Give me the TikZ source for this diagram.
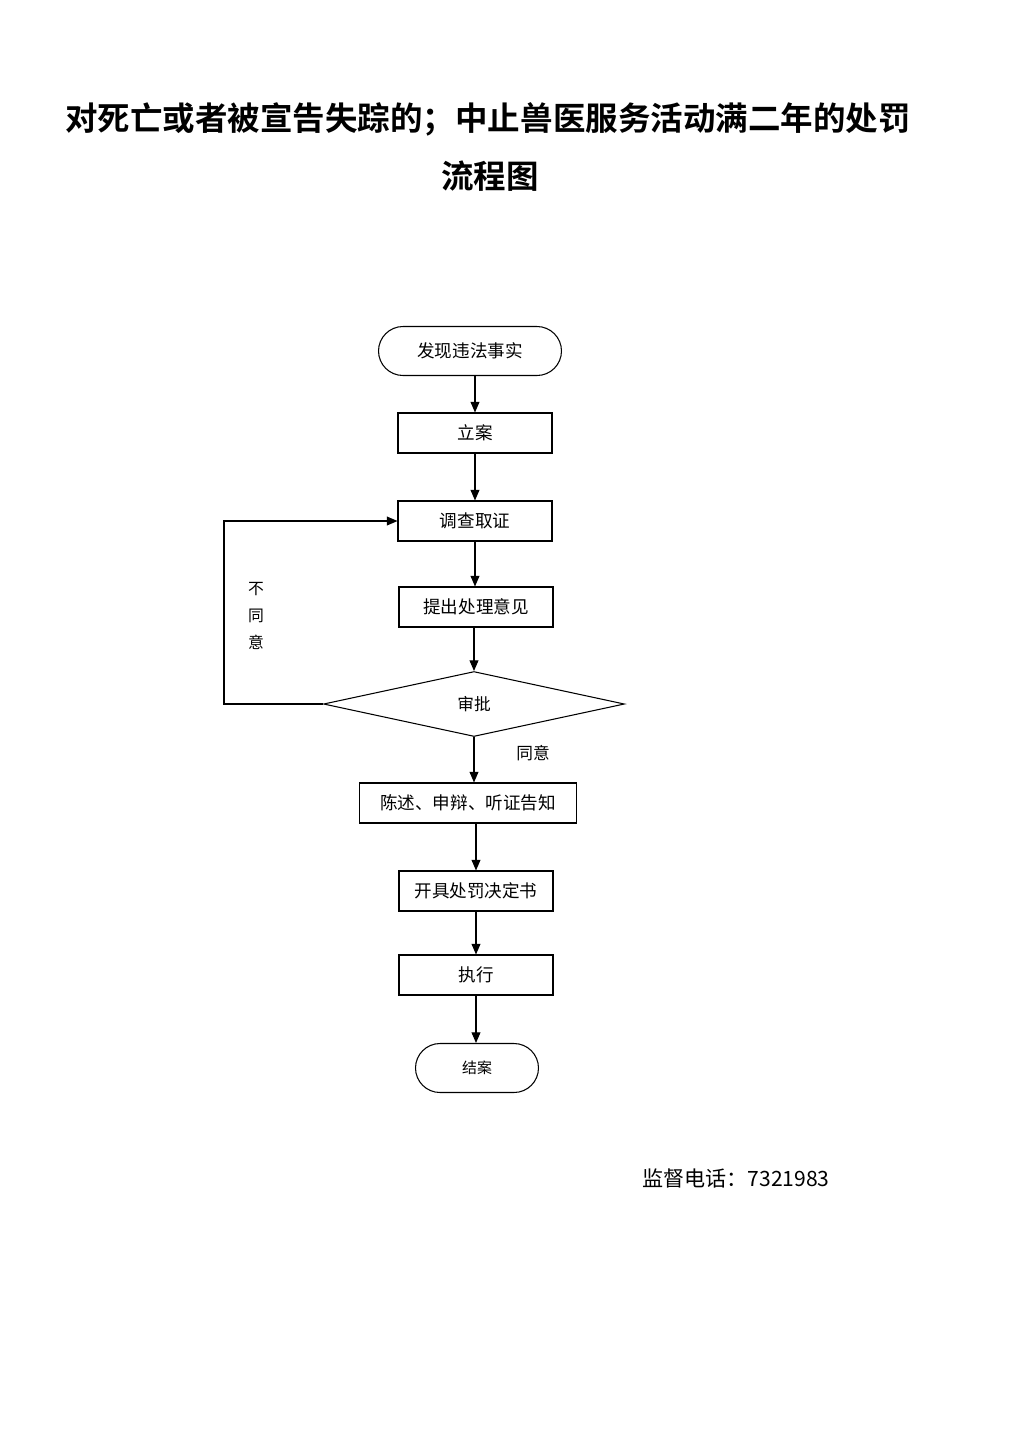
\documentclass[tikz,border=0pt]{standalone}
\usepackage{fontspec}
\setmainfont{Noto Sans CJK SC}
\newfontfamily\cjkbold[BoldFont=* Bold]{Noto Sans CJK SC}
\usepackage{tikz}
\usetikzlibrary{shapes.geometric, arrows.meta}

\begin{document}
\begin{tikzpicture}[x=0.02cm, y=-0.02cm,
  stepbox/.style={draw=black, line width=0.6pt, minimum width=3.08cm, minimum height=0.8cm, inner sep=0pt, font=\fontsize{10}{12}\selectfont},
  terminal/.style={draw=black, line width=0.6pt, rounded corners=0.49cm, minimum height=0.98cm, inner sep=0pt},
  decision/.style={draw=black, line width=0.6pt, diamond, minimum width=6.02cm, minimum height=1.3cm, inner sep=0pt, font=\fontsize{9.5}{11}\selectfont},
  arr/.style={draw=black, line width=0.6pt, -{Triangle[length=6pt, width=5pt]}}]
\useasboundingbox (0,0) rectangle (1024,1448);

% title
\node[font=\cjkbold\bfseries\fontsize{18.5}{22}\selectfont] (title1) at (488,119) {对死亡或者被宣告失踪的；中止兽医服务活动满二年的处罚};
\node[font=\cjkbold\bfseries\fontsize{18.5}{22}\selectfont] (title2) at (490,176) {流程图};

% steps
\node[terminal, minimum width=3.66cm, font=\fontsize{10}{12}\selectfont] (faxian) at (470,351) {发现违法事实};
\node[stepbox] (lian) at (475,433) {立案};
\node[stepbox] (diaocha) at (475,521) {调查取证};
\node[stepbox] (tichu) at (476,607) {提出处理意见};
\node[decision] (shenpi) at (474,704) {审批};
\node[stepbox, minimum width=4.34cm] (chenshu) at (468,803) {陈述、申辩、听证告知};
\node[stepbox] (kaiju) at (476,891) {开具处罚决定书};
\node[stepbox] (zhixing) at (476,975) {执行};
\node[terminal, minimum width=2.46cm, font=\fontsize{8.5}{10}\selectfont] (jiean) at (477,1068) {结案};

% arrows
\draw[arr] (lian.north |- faxian.south) -- (lian.north);
\draw[arr] (lian) -- (diaocha);
\draw[arr] (diaocha.south) -- (diaocha.south |- tichu.north);
\draw[arr] (shenpi.north |- tichu.south) -- (shenpi.north);
\draw[arr] (shenpi.south) -- (shenpi.south |- chenshu.north);
\draw[arr] (kaiju.north |- chenshu.south) -- (kaiju.north);
\draw[arr] (kaiju) -- (zhixing);
\draw[arr] (zhixing.south) -- (zhixing.south |- jiean.north);
\draw[arr] (shenpi.west) -- ++(-99,0) |- (diaocha.west);

% labels
\node[font=\fontsize{9}{15.3}\selectfont, align=center] (butongyi) at (256,616) {不\\同\\意};
\node[font=\fontsize{9.5}{11}\selectfont] (tongyi) at (533,753) {同意};
\node[font=\fontsize{12}{14}\selectfont] (phone) at (736,1178) {监督电话：7321983};
\end{tikzpicture}
\end{document}
